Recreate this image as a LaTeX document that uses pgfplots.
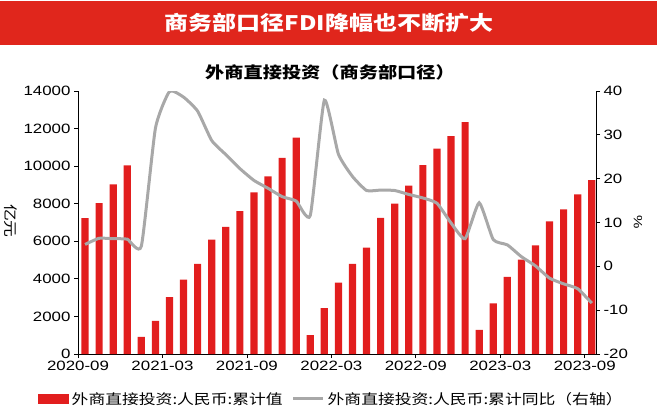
\documentclass[border=0pt]{standalone}
\usepackage{pgfplots}
\pgfplotsset{compat=1.18}
\usepackage{fontspec}
\setmainfont{Liberation Sans}[FakeStretch=1.25]
\newfontfamily\cjk{Noto Sans CJK SC}[FakeStretch=1.2]
\definecolor{barred}{RGB}{226,30,30}
\definecolor{banner}{RGB}{224,38,28}
\definecolor{linegray}{RGB}{168,168,168}

\pgfplotsset{
  common/.style={
    at={(78pt,61pt)}, anchor=south west,
    scale only axis, width=518pt, height=263pt,
    xmin=0, xmax=36.8,
    tick align=outside, major tick length=4pt,
    tick style={black, line width=0.8pt},
    axis line style={-, black, line width=0.8pt},
    ticklabel style={font=\fontsize{13.5}{15}\selectfont},
    /pgf/number format/assume math mode=true,
    /pgf/number format/1000 sep={},
    scaled y ticks=false,
  },
}

\begin{document}
\begin{tikzpicture}[x=1pt,y=1pt]
\useasboundingbox (0,0) rectangle (660,415);
\fill[banner] (0,370) rectangle (657,414);
\node[text=white, font=\cjk\fontsize{20}{24}\selectfont\bfseries] at (329,392) {商务部口径FDI降幅也不断扩大};
\node[font=\cjk\fontsize{16}{18}\selectfont\bfseries] at (330,343) {外商直接投资（商务部口径）};
\node[rotate=-90, font=\cjk\fontsize{14}{16}\selectfont] at (11,194) {亿元};
\node[rotate=-90, font=\fontsize{12}{14}\selectfont] at (638,193) {\%};

% cumulative value, 100 million yuan
\begin{axis}[common,
  ymin=0, ymax=14000,
  axis y line*=left, axis x line*=bottom,
  ytick={0,2000,...,14000},
  xtick={0,6,...,36},
  xticklabels={2020-09,2021-03,2021-09,2022-03,2022-09,2023-03,2023-09},
  ybar, bar width=7.2pt,
]
\addplot[draw=none, fill=barred] coordinates {
  (0.5,7230) (1.5,8030) (2.5,9030) (3.5,10040)
  (4.5,917) (5.5,1766) (6.5,3026) (7.5,3960) (8.5,4800) (9.5,6090)
  (10.5,6765) (11.5,7602) (12.5,8610) (13.5,9450) (14.5,10440) (15.5,11520)
  (16.5,1010) (17.5,2437) (18.5,3800) (19.5,4800) (20.5,5660) (21.5,7250)
  (22.5,8000) (23.5,8960) (24.5,10050) (25.5,10930) (26.5,11600) (27.5,12340)
  (28.5,1290) (29.5,2700) (30.5,4100) (31.5,5030) (32.5,5780) (33.5,7060)
  (34.5,7700) (35.5,8500) (36.5,9250)
};
\end{axis}

% cumulative yoy, %
\begin{axis}[common,
  ymin=-20, ymax=40,
  axis y line*=right, axis x line=none,
  ytick={-20,-10,...,40},
  legend columns=2,
  legend style={draw=none, fill=none, inner sep=0pt,
    at={(-0.077,-0.171)}, anchor=west,
    font=\cjk\fontsize{14}{16}\selectfont,
    nodes={inner sep=3pt},
    /tikz/every even column/.append style={column sep=6pt}},
]
\addlegendimage{legend image code/.code={\fill[barred] (0pt,-4.5pt) rectangle (30pt,4.5pt);}}
\addlegendentry{外商直接投资:人民币:累计值}
\addplot[linegray, line width=3pt, smooth, tension=0.3,
  legend image code/.code={\draw[linegray, line width=3pt] (0pt,0pt) -- (30pt,0pt);}]
  coordinates {
  (0.5,5.0) (1.5,6.4) (2.5,6.3) (3.5,6.2)
  (4.5,4.6) (5.5,31.5) (6.5,39.9) (7.5,38.6) (8.5,35.4) (9.5,28.7)
  (10.5,25.5) (11.5,22.3) (12.5,19.6) (13.5,17.8) (14.5,15.9) (15.5,14.9)
  (16.5,11.6) (17.5,37.9) (18.5,25.6) (19.5,20.5) (20.5,17.3) (21.5,17.4)
  (22.5,17.3) (23.5,16.4) (24.5,15.6) (25.5,14.4) (26.5,9.9) (27.5,6.3)
  (28.5,14.5) (29.5,6.1) (30.5,4.9) (31.5,2.2) (32.5,0.1) (33.5,-2.7)
  (34.5,-4.0) (35.5,-5.1) (36.5,-8.4)
};
\addlegendentry{外商直接投资:人民币:累计同比（右轴）}
\end{axis}
\end{tikzpicture}
\end{document}
